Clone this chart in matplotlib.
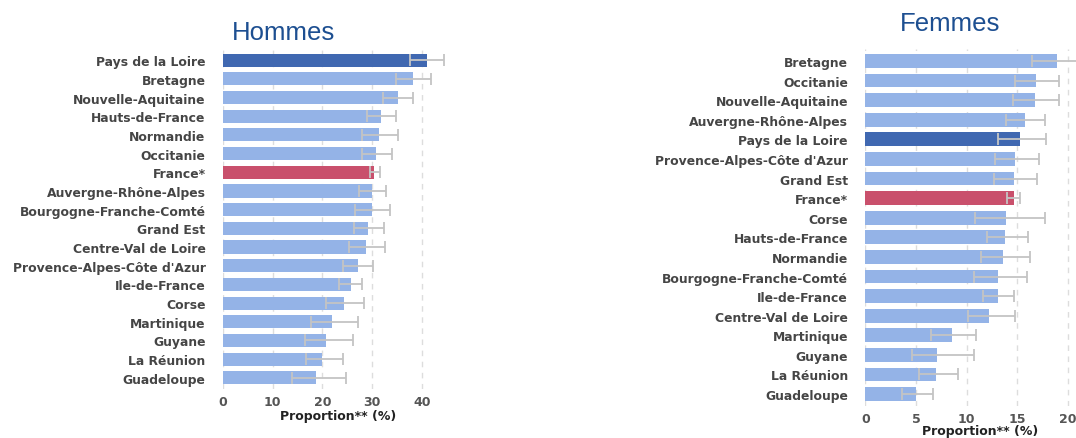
import matplotlib
matplotlib.use("Agg")
import matplotlib.pyplot as plt

# Hommes
regions_h = ["Pays de la Loire", "Bretagne", "Nouvelle-Aquitaine", "Hauts-de-France",
             "Normandie", "Occitanie", "France*", "Auvergne-Rhône-Alpes",
             "Bourgogne-Franche-Comté", "Grand Est", "Centre-Val de Loire",
             "Provence-Alpes-Côte d'Azur", "Ile-de-France", "Corse", "Martinique",
             "Guyane", "La Réunion", "Guadeloupe"]
val_h = [41.0, 38.3, 35.2, 31.8, 31.4, 30.8, 30.4, 30.0, 29.9, 29.2, 28.8, 27.1,
         25.7, 24.3, 21.9, 20.7, 20.0, 18.7]
low_h = [37.6, 34.8, 32.1, 28.9, 27.9, 28.0, 29.5, 27.4, 26.5, 26.3, 25.3, 24.1,
         23.4, 20.7, 17.6, 16.4, 16.6, 13.8]
high_h = [44.5, 41.9, 38.3, 34.8, 35.1, 33.9, 31.5, 32.8, 33.6, 32.3, 32.6, 30.2,
          28.0, 28.4, 27.1, 26.1, 24.1, 24.8]

# Femmes
regions_f = ["Bretagne", "Occitanie", "Nouvelle-Aquitaine", "Auvergne-Rhône-Alpes",
             "Pays de la Loire", "Provence-Alpes-Côte d'Azur", "Grand Est", "France*",
             "Corse", "Hauts-de-France", "Normandie", "Bourgogne-Franche-Comté",
             "Ile-de-France", "Centre-Val de Loire", "Martinique", "Guyane",
             "La Réunion", "Guadeloupe"]
val_f = [18.9, 16.8, 16.7, 15.7, 15.3, 14.8, 14.7, 14.7, 13.9, 13.8, 13.6, 13.1,
         13.1, 12.2, 8.5, 7.1, 7.0, 5.0]
low_f = [16.4, 14.8, 14.6, 13.9, 13.1, 12.8, 12.7, 14.0, 10.8, 12.0, 11.4, 10.7,
         11.6, 10.1, 6.5, 4.6, 5.3, 3.6]
high_f = [21.5, 19.1, 19.1, 17.7, 17.8, 17.1, 16.9, 15.3, 17.7, 16.0, 16.2, 15.9,
          14.7, 14.8, 10.9, 10.7, 9.1, 6.7]

LIGHT = "#94b3e7"
DARK = "#4068b1"
RED = "#c9506c"


def bar_colors(names):
    cols = []
    for n in names:
        if n == "Pays de la Loire":
            cols.append(DARK)
        elif n == "France*":
            cols.append(RED)
        else:
            cols.append(LIGHT)
    return cols


def draw(ax, names, vals, lows, highs, xmax, ticks, lpad):
    y = list(range(len(names)))
    err = [[v - l for v, l in zip(vals, lows)], [h - v for v, h in zip(vals, highs)]]
    ax.barh(y, vals, height=0.7, color=bar_colors(names), zorder=2)
    ax.errorbar(vals, y, xerr=err, fmt="none", ecolor="#c4c4c4", elinewidth=1.3,
                capsize=4.5, capthick=1.3, zorder=3)
    ax.set_yticks(y)
    ax.set_yticklabels(names, fontsize=8.9, fontweight="bold", color="#454545")
    ax.set_ylim(len(names) - 0.4, -0.6)
    ax.set_xlim(0, xmax)
    ax.set_xticks(ticks)
    ax.set_xticklabels([str(t) for t in ticks], fontsize=9, fontweight="bold",
                       color="#555555")
    ax.tick_params(length=0, pad=4.5)
    ax.tick_params(axis="y", pad=12.5)
    ax.set_xlabel("Proportion** (%)", fontsize=9, fontweight="bold", color="#222222",
                  labelpad=lpad)
    ax.grid(axis="x", color="#dddddd", linestyle=(0, (4, 4)), linewidth=1, zorder=0)
    ax.set_axisbelow(True)
    for s in ax.spines.values():
        s.set_visible(False)


fig = plt.figure(figsize=(10.76, 4.39), dpi=100)

ax1 = fig.add_axes([0.2072, 0.1116, 0.2150, 0.7745])
draw(ax1, regions_h, val_h, low_h, high_h, 46.5, [0, 10, 20, 30, 40], 0.5)

ax2 = fig.add_axes([0.8042, 0.0733, 0.2130, 0.8123])
draw(ax2, regions_f, val_f, low_f, high_f, 22.6, [0, 5, 10, 15, 20], -1)

fig.text(232 / 1076, 1 - 40 / 439, "Hommes", fontsize=18.5, color="#1d4f91",
         family="Liberation Sans", ha="left", va="baseline")
fig.text(900 / 1076, 1 - 31 / 439, "Femmes", fontsize=18.5, color="#1d4f91",
         family="Liberation Sans", ha="left", va="baseline")

fig.savefig("out.png", dpi=100)
